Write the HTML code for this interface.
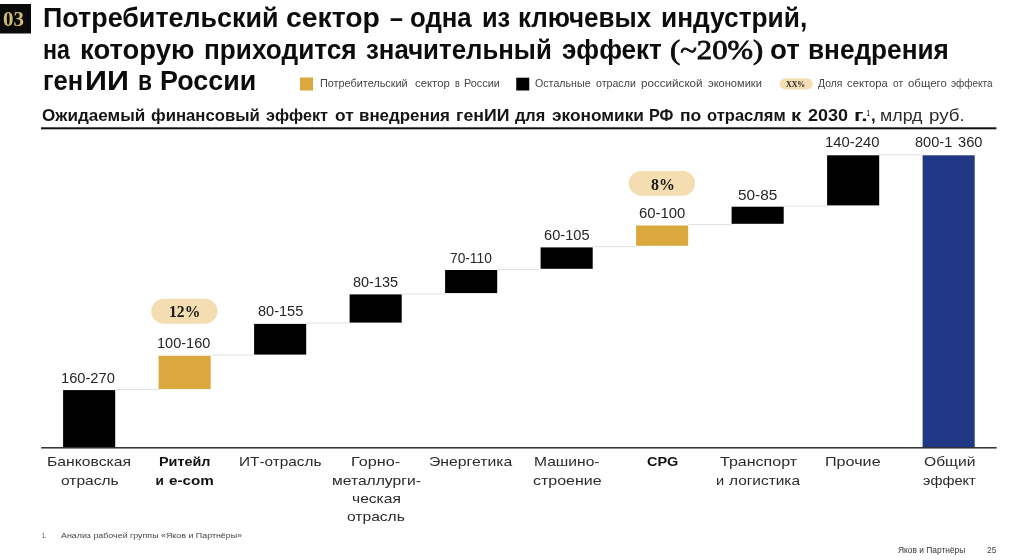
<!DOCTYPE html>
<html lang="ru">
<head>
<meta charset="utf-8">
<title>Потребительский сектор</title>
<style>
*{margin:0;padding:0;box-sizing:border-box}
html,body{width:1024px;height:560px;background:#fff;overflow:hidden}
body{position:relative;font-family:"Liberation Sans",sans-serif;color:#111}
.t{position:absolute;white-space:pre;display:block}
.f{font-family:"Liberation Sans",sans-serif}
.r{font-family:"Liberation Serif",serif}
</style>
</head>
<body>
<svg width="1024" height="560" viewBox="0 0 1024 560" style="position:absolute;left:0;top:0">
<rect x="0" y="4" width="31" height="29.5" fill="#0a0a0a"/>
<rect x="300" y="77.5" width="13" height="13" fill="#dba83d"/>
<rect x="516.25" y="77.7" width="13" height="12.8" fill="#000"/>
<rect x="779.6" y="78.3" width="33.2" height="11.1" rx="5.55" fill="#f4dfb4"/>
<rect x="41" y="127.3" width="955.4" height="2" fill="#111"/>
<rect x="115.2" y="389.0" width="43.4" height="1" fill="#e2e2e2"/>
<rect x="210.7" y="354.5" width="43.4" height="1" fill="#e2e2e2"/>
<rect x="306.2" y="322.5" width="43.4" height="1" fill="#e2e2e2"/>
<rect x="401.7" y="293.5" width="43.4" height="1" fill="#e2e2e2"/>
<rect x="497.2" y="269.0" width="43.4" height="1" fill="#e2e2e2"/>
<rect x="592.7" y="246.1" width="43.4" height="1" fill="#e2e2e2"/>
<rect x="688.2" y="224.1" width="43.4" height="1" fill="#e2e2e2"/>
<rect x="783.7" y="205.6" width="43.4" height="1" fill="#e2e2e2"/>
<rect x="879.2" y="154.3" width="43.4" height="1" fill="#e2e2e2"/>
<rect x="63.1" y="390.1" width="52.1" height="57.1" fill="#000"/>
<rect x="158.6" y="355.7" width="52.1" height="33.4" fill="#dba83d"/>
<rect x="254.1" y="323.9" width="52.1" height="30.7" fill="#000"/>
<rect x="349.6" y="294.4" width="52.1" height="28.2" fill="#000"/>
<rect x="445.1" y="270" width="52.1" height="23.1" fill="#000"/>
<rect x="540.6" y="247.4" width="52.1" height="21.4" fill="#000"/>
<rect x="636.1" y="225.5" width="52.1" height="20.3" fill="#dba83d"/>
<rect x="731.6" y="206.7" width="52.1" height="17.1" fill="#000"/>
<rect x="827.1" y="155.3" width="52.1" height="50.1" fill="#000"/>
<rect x="922.6" y="155.3" width="52.1" height="291.9" fill="#1f3785"/>
<rect x="41.2" y="447.1" width="955.5" height="1.4" fill="#222"/>
<rect x="151.25" y="298.75" width="66.25" height="25" rx="12.5" fill="#f4ddb0"/>
<rect x="628.75" y="170.9" width="66.25" height="24.8" rx="12.4" fill="#f4ddb0"/>
</svg>
<span class="t f" style="left:43.30px;top:1.00px;font-size:26.8px;line-height:34px;color:#0c0c0c;transform:scaleX(1.0033);transform-origin:0 0;font-weight:bold;">Потребительский</span>
<span class="t f" style="left:286.44px;top:1.00px;font-size:26.8px;line-height:34px;color:#0c0c0c;transform:scaleX(1.0589);transform-origin:0 0;font-weight:bold;">сектор</span>
<span class="t f" style="left:389.50px;top:1.00px;font-size:26.8px;line-height:34px;color:#0c0c0c;transform:scaleX(0.8667);transform-origin:0 0;font-weight:bold;">–</span>
<span class="t f" style="left:410.29px;top:1.00px;font-size:26.8px;line-height:34px;color:#0c0c0c;transform:scaleX(0.9617);transform-origin:0 0;font-weight:bold;">одна</span>
<span class="t f" style="left:481.55px;top:1.00px;font-size:26.8px;line-height:34px;color:#0c0c0c;transform:scaleX(0.9483);transform-origin:0 0;font-weight:bold;">из</span>
<span class="t f" style="left:518.43px;top:1.00px;font-size:26.8px;line-height:34px;color:#0c0c0c;transform:scaleX(0.9696);transform-origin:0 0;font-weight:bold;">ключевых</span>
<span class="t f" style="left:661.22px;top:1.00px;font-size:26.8px;line-height:34px;color:#0c0c0c;transform:scaleX(0.9811);transform-origin:0 0;font-weight:bold;">индустрий,</span>
<span class="t f" style="left:42.73px;top:33.00px;font-size:26.8px;line-height:34px;color:#0c0c0c;transform:scaleX(0.8658);transform-origin:0 0;font-weight:bold;">на</span>
<span class="t f" style="left:79.58px;top:33.00px;font-size:26.8px;line-height:34px;color:#0c0c0c;transform:scaleX(1.0244);transform-origin:0 0;font-weight:bold;">которую</span>
<span class="t f" style="left:204.02px;top:33.00px;font-size:26.8px;line-height:34px;color:#0c0c0c;transform:scaleX(0.9776);transform-origin:0 0;font-weight:bold;">приходится</span>
<span class="t f" style="left:366.25px;top:33.00px;font-size:26.8px;line-height:34px;color:#0c0c0c;transform:scaleX(0.9633);transform-origin:0 0;font-weight:bold;">значительный</span>
<span class="t f" style="left:561.50px;top:33.00px;font-size:26.8px;line-height:34px;color:#0c0c0c;transform:scaleX(0.9712);transform-origin:0 0;font-weight:bold;">эффект</span>
<span class="t r" style="left:670.39px;top:33.00px;font-size:27.5px;line-height:34px;color:#0c0c0c;transform:scaleX(1.1149);transform-origin:0 0;-webkit-text-stroke:.8px #0c0c0c;">(~20%)</span>
<span class="t f" style="left:770.17px;top:33.00px;font-size:26.8px;line-height:34px;color:#0c0c0c;transform:scaleX(1.0324);transform-origin:0 0;font-weight:bold;">от</span>
<span class="t f" style="left:807.62px;top:33.00px;font-size:26.8px;line-height:34px;color:#0c0c0c;transform:scaleX(0.9774);transform-origin:0 0;font-weight:bold;">внедрения</span>
<span class="t f" style="left:42.95px;top:64.00px;font-size:26.8px;line-height:34px;color:#0c0c0c;transform:scaleX(0.9510);transform-origin:0 0;font-weight:bold;">ген</span>
<span class="t f" style="left:85.06px;top:64.00px;font-size:26.8px;line-height:34px;color:#0c0c0c;transform:scaleX(1.1390);transform-origin:0 0;font-weight:bold;">ИИ</span>
<span class="t f" style="left:137.90px;top:64.00px;font-size:26.8px;line-height:34px;color:#0c0c0c;transform:scaleX(0.8500);transform-origin:0 0;font-weight:bold;">в</span>
<span class="t f" style="left:160.25px;top:64.00px;font-size:26.8px;line-height:34px;color:#0c0c0c;transform:scaleX(1.0027);transform-origin:0 0;font-weight:bold;">России</span>
<span class="t f" style="left:42.25px;top:106.00px;font-size:15.7px;line-height:20px;color:#151515;transform:scaleX(1.0885);transform-origin:0 0;font-weight:bold;">Ожидаемый</span>
<span class="t f" style="left:151.00px;top:106.00px;font-size:15.7px;line-height:20px;color:#151515;transform:scaleX(1.0671);transform-origin:0 0;font-weight:bold;">финансовый</span>
<span class="t f" style="left:266.25px;top:106.00px;font-size:15.7px;line-height:20px;color:#151515;transform:scaleX(1.0292);transform-origin:0 0;font-weight:bold;">эффект</span>
<span class="t f" style="left:335.30px;top:106.00px;font-size:15.7px;line-height:20px;color:#151515;transform:scaleX(1.1052);transform-origin:0 0;font-weight:bold;">от</span>
<span class="t f" style="left:358.72px;top:106.00px;font-size:15.7px;line-height:20px;color:#151515;transform:scaleX(1.0778);transform-origin:0 0;font-weight:bold;">внедрения</span>
<span class="t f" style="left:455.87px;top:106.00px;font-size:15.7px;line-height:20px;color:#151515;transform:scaleX(1.1302);transform-origin:0 0;font-weight:bold;">генИИ</span>
<span class="t f" style="left:514.50px;top:106.00px;font-size:15.7px;line-height:20px;color:#151515;transform:scaleX(1.0372);transform-origin:0 0;font-weight:bold;">для</span>
<span class="t f" style="left:552.00px;top:106.00px;font-size:15.7px;line-height:20px;color:#151515;transform:scaleX(1.1015);transform-origin:0 0;font-weight:bold;">экономики</span>
<span class="t f" style="left:649.22px;top:106.00px;font-size:15.7px;line-height:20px;color:#151515;transform:scaleX(1.0334);transform-origin:0 0;font-weight:bold;">РФ</span>
<span class="t f" style="left:680.13px;top:106.00px;font-size:15.7px;line-height:20px;color:#151515;transform:scaleX(1.1159);transform-origin:0 0;font-weight:bold;">по</span>
<span class="t f" style="left:707.00px;top:106.00px;font-size:15.7px;line-height:20px;color:#151515;transform:scaleX(1.0537);transform-origin:0 0;font-weight:bold;">отраслям</span>
<span class="t f" style="left:790.71px;top:106.00px;font-size:15.7px;line-height:20px;color:#151515;transform:scaleX(1.2857);transform-origin:0 0;font-weight:bold;">к</span>
<span class="t f" style="left:808.00px;top:106.00px;font-size:15.7px;line-height:20px;color:#151515;transform:scaleX(1.1443);transform-origin:0 0;font-weight:bold;">2030</span>
<span class="t f" style="left:854.06px;top:106.00px;font-size:15.7px;line-height:20px;color:#151515;transform:scaleX(1.4443);transform-origin:0 0;font-weight:bold;">г.</span>
<span class="t f" style="left:867.40px;top:107.00px;font-size:9.5px;line-height:12px;color:#151515;transform:scaleX(0.4833);transform-origin:0 0;font-weight:bold;">1</span>
<span class="t f" style="left:870.53px;top:106.00px;font-size:15.7px;line-height:20px;color:#151515;transform:scaleX(1.0667);transform-origin:0 0;font-weight:bold;">,</span>
<span class="t f" style="left:880.17px;top:106.00px;font-size:15.7px;line-height:20px;color:#2a2a2a;transform:scaleX(1.1349);transform-origin:0 0;">млрд</span>
<span class="t f" style="left:928.51px;top:106.00px;font-size:15.7px;line-height:20px;color:#2a2a2a;transform:scaleX(1.1940);transform-origin:0 0;">руб.</span>
<span class="t f" style="left:320.00px;top:76.00px;font-size:10.9px;line-height:14px;color:#444;transform:scaleX(0.9963);transform-origin:0 0;">Потребительский</span>
<span class="t f" style="left:414.50px;top:76.00px;font-size:10.9px;line-height:14px;color:#444;transform:scaleX(1.0432);transform-origin:0 0;">сектор</span>
<span class="t f" style="left:454.50px;top:76.00px;font-size:10.9px;line-height:14px;color:#444;transform:scaleX(0.8333);transform-origin:0 0;">в</span>
<span class="t f" style="left:463.75px;top:76.00px;font-size:10.9px;line-height:14px;color:#444;transform:scaleX(0.9982);transform-origin:0 0;">России</span>
<span class="t f" style="left:535.00px;top:76.00px;font-size:10.9px;line-height:14px;color:#444;transform:scaleX(0.9787);transform-origin:0 0;">Остальные</span>
<span class="t f" style="left:595.75px;top:76.00px;font-size:10.9px;line-height:14px;color:#444;transform:scaleX(0.9762);transform-origin:0 0;">отрасли</span>
<span class="t f" style="left:640.50px;top:76.00px;font-size:10.9px;line-height:14px;color:#444;transform:scaleX(1.0684);transform-origin:0 0;">российской</span>
<span class="t f" style="left:707.50px;top:76.00px;font-size:10.9px;line-height:14px;color:#444;transform:scaleX(1.0159);transform-origin:0 0;">экономики</span>
<span class="t f" style="left:818.00px;top:76.00px;font-size:10.9px;line-height:14px;color:#444;transform:scaleX(0.9544);transform-origin:0 0;">Доля</span>
<span class="t f" style="left:847.00px;top:76.00px;font-size:10.9px;line-height:14px;color:#444;transform:scaleX(1.0342);transform-origin:0 0;">сектора</span>
<span class="t f" style="left:893.00px;top:76.00px;font-size:10.9px;line-height:14px;color:#444;transform:scaleX(0.9244);transform-origin:0 0;">от</span>
<span class="t f" style="left:907.50px;top:76.00px;font-size:10.9px;line-height:14px;color:#444;transform:scaleX(1.0495);transform-origin:0 0;">общего</span>
<span class="t f" style="left:951.25px;top:76.00px;font-size:10.9px;line-height:14px;color:#444;transform:scaleX(0.9182);transform-origin:0 0;">эффекта</span>
<span class="t r" style="left:786.25px;top:80.00px;font-size:8px;line-height:10px;color:#222;transform:scaleX(0.9844);transform-origin:0 0;font-weight:bold;">XX%</span>
<span class="t f" style="left:61.45px;top:369.00px;font-size:14.0px;line-height:18px;color:#262626;transform:scaleX(1.0476);transform-origin:0 0;">160-270</span>
<span class="t f" style="left:157.21px;top:334.00px;font-size:14.0px;line-height:18px;color:#262626;transform:scaleX(1.0377);transform-origin:0 0;">100-160</span>
<span class="t f" style="left:257.50px;top:302.00px;font-size:14.0px;line-height:18px;color:#262626;transform:scaleX(1.0387);transform-origin:0 0;">80-155</span>
<span class="t f" style="left:353.25px;top:273.00px;font-size:14.0px;line-height:18px;color:#262626;transform:scaleX(1.0329);transform-origin:0 0;">80-135</span>
<span class="t f" style="left:450.00px;top:249.00px;font-size:14.0px;line-height:18px;color:#262626;transform:scaleX(0.9821);transform-origin:0 0;">70-110</span>
<span class="t f" style="left:543.75px;top:226.00px;font-size:14.0px;line-height:18px;color:#262626;transform:scaleX(1.0444);transform-origin:0 0;">60-105</span>
<span class="t f" style="left:638.75px;top:204.00px;font-size:14.0px;line-height:18px;color:#262626;transform:scaleX(1.0626);transform-origin:0 0;">60-100</span>
<span class="t f" style="left:738.00px;top:186.00px;font-size:14.0px;line-height:18px;color:#262626;transform:scaleX(1.0966);transform-origin:0 0;">50-85</span>
<span class="t f" style="left:825.34px;top:133.00px;font-size:14.0px;line-height:18px;color:#262626;transform:scaleX(1.0594);transform-origin:0 0;">140-240</span>
<span class="t f" style="left:914.80px;top:133.00px;font-size:14.0px;line-height:18px;color:#262626;transform:scaleX(1.0411);transform-origin:0 0;">800-1</span>
<span class="t f" style="left:957.80px;top:133.00px;font-size:14.0px;line-height:18px;color:#262626;transform:scaleX(1.0478);transform-origin:0 0;">360</span>
<span class="t r" style="left:168.58px;top:301.00px;font-size:17px;line-height:21px;color:#1a1a1a;transform:scaleX(0.9219);transform-origin:0 0;font-weight:bold;">12%</span>
<span class="t r" style="left:650.50px;top:174.00px;font-size:17px;line-height:21px;color:#1a1a1a;transform:scaleX(0.9347);transform-origin:0 0;font-weight:bold;">8%</span>
<span class="t f" style="left:46.84px;top:453.00px;font-size:13.6px;line-height:17px;color:#2a2a2a;transform:scaleX(1.1568);transform-origin:0 0;">Банковская</span>
<span class="t f" style="left:60.50px;top:472.00px;font-size:13.6px;line-height:17px;color:#2a2a2a;transform:scaleX(1.1423);transform-origin:0 0;">отрасль</span>
<span class="t f" style="left:159.25px;top:453.00px;font-size:13.6px;line-height:17px;color:#111;transform:scaleX(1.0573);transform-origin:0 0;font-weight:bold;">Ритейл</span>
<span class="t f" style="left:155.50px;top:472.00px;font-size:13.6px;line-height:17px;color:#111;transform:scaleX(1.0000);transform-origin:0 0;font-weight:bold;">и</span>
<span class="t f" style="left:169.00px;top:472.00px;font-size:13.6px;line-height:17px;color:#111;transform:scaleX(1.1201);transform-origin:0 0;font-weight:bold;">e-com</span>
<span class="t f" style="left:238.62px;top:453.00px;font-size:13.6px;line-height:17px;color:#2a2a2a;transform:scaleX(1.1295);transform-origin:0 0;">ИТ-отрасль</span>
<span class="t f" style="left:350.56px;top:453.00px;font-size:13.6px;line-height:17px;color:#2a2a2a;transform:scaleX(1.1920);transform-origin:0 0;">Горно-</span>
<span class="t f" style="left:332.25px;top:472.00px;font-size:13.6px;line-height:17px;color:#2a2a2a;transform:scaleX(1.1505);transform-origin:0 0;">металлурги-</span>
<span class="t f" style="left:351.75px;top:490.00px;font-size:13.6px;line-height:17px;color:#2a2a2a;transform:scaleX(1.1480);transform-origin:0 0;">ческая</span>
<span class="t f" style="left:346.75px;top:508.00px;font-size:13.6px;line-height:17px;color:#2a2a2a;transform:scaleX(1.1473);transform-origin:0 0;">отрасль</span>
<span class="t f" style="left:429.25px;top:453.00px;font-size:13.6px;line-height:17px;color:#2a2a2a;transform:scaleX(1.1595);transform-origin:0 0;">Энергетика</span>
<span class="t f" style="left:533.85px;top:453.00px;font-size:13.6px;line-height:17px;color:#2a2a2a;transform:scaleX(1.1465);transform-origin:0 0;">Машино-</span>
<span class="t f" style="left:532.50px;top:472.00px;font-size:13.6px;line-height:17px;color:#2a2a2a;transform:scaleX(1.1764);transform-origin:0 0;">строение</span>
<span class="t f" style="left:646.75px;top:453.00px;font-size:13.6px;line-height:17px;color:#111;transform:scaleX(1.0646);transform-origin:0 0;font-weight:bold;">CPG</span>
<span class="t f" style="left:719.50px;top:453.00px;font-size:13.6px;line-height:17px;color:#2a2a2a;transform:scaleX(1.1781);transform-origin:0 0;">Транспорт</span>
<span class="t f" style="left:715.50px;top:472.00px;font-size:13.6px;line-height:17px;color:#2a2a2a;transform:scaleX(1.0714);transform-origin:0 0;">и</span>
<span class="t f" style="left:728.50px;top:472.00px;font-size:13.6px;line-height:17px;color:#2a2a2a;transform:scaleX(1.1339);transform-origin:0 0;">логистика</span>
<span class="t f" style="left:825.06px;top:453.00px;font-size:13.6px;line-height:17px;color:#2a2a2a;transform:scaleX(1.1874);transform-origin:0 0;">Прочие</span>
<span class="t f" style="left:923.50px;top:453.00px;font-size:13.6px;line-height:17px;color:#2a2a2a;transform:scaleX(1.1498);transform-origin:0 0;">Общий</span>
<span class="t f" style="left:923.00px;top:472.00px;font-size:13.6px;line-height:17px;color:#2a2a2a;transform:scaleX(1.0722);transform-origin:0 0;">эффект</span>
<span class="t f" style="left:41.50px;top:531.00px;font-size:7.6px;line-height:10px;color:#444;transform:scaleX(0.7231);transform-origin:0 0;">1.</span>
<span class="t f" style="left:61.25px;top:531.00px;font-size:7.6px;line-height:10px;color:#444;transform:scaleX(1.1678);transform-origin:0 0;">Анализ рабочей группы «Яков и Партнёры»</span>
<span class="t f" style="left:897.90px;top:545.00px;font-size:8.6px;line-height:11px;color:#333;transform:scaleX(0.9757);transform-origin:0 0;">Яков и Партнёры</span>
<span class="t f" style="left:986.90px;top:545.00px;font-size:8.8px;line-height:11px;color:#444;transform:scaleX(0.9502);transform-origin:0 0;">25</span>
<span class="t r" style="left:2.75px;top:7.00px;font-size:20.3px;line-height:25px;color:#d2bb74;transform:scaleX(1.0303);transform-origin:0 0;font-weight:bold;">03</span>
</body>
</html>
